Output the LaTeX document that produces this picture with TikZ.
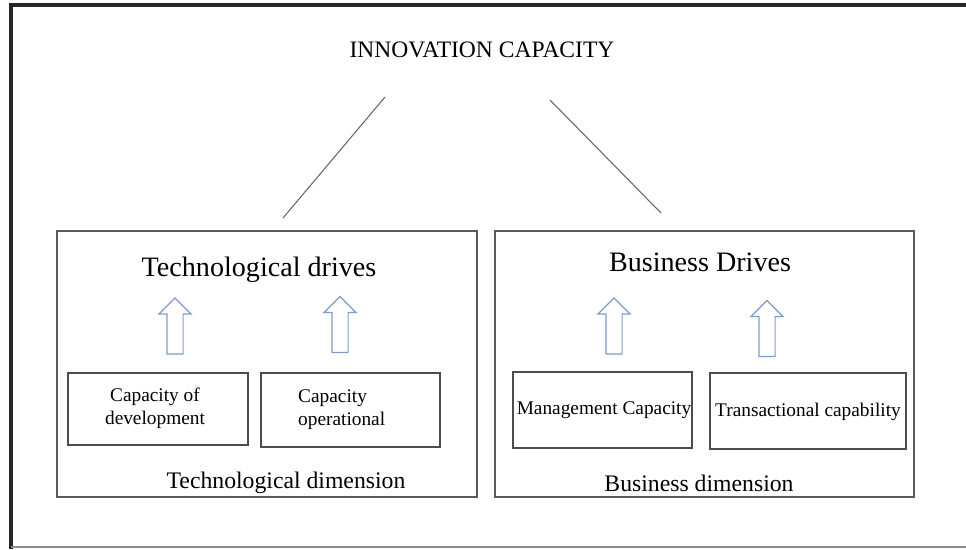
\documentclass[tikz,border=0pt]{standalone}
\usepackage{fontspec}
\setmainfont{Liberation Serif}
\usetikzlibrary{shapes.arrows}
\definecolor{arrowblue}{RGB}{125,155,205}

\begin{document}
\begin{tikzpicture}[x=0.02cm, y=-0.02cm,
    dimbox/.style={draw=black!65, line width=0.8pt},
    itembox/.style={draw=black!70, line width=0.9pt},
    uparrow/.style={single arrow, draw=arrowblue, line width=0.7pt,
      shape border rotate=90, inner sep=0.15cm, single arrow head extend=0.16cm,
      minimum height=1.12cm},
    link/.style={draw=black!60, line width=0.6pt},
    itemtext/.style={font=\fontsize{11}{13}\selectfont, align=center},
    headtext/.style={font=\fontsize{16}{19}\selectfont},
    dimtext/.style={font=\fontsize{13.5}{16}\selectfont}]
    \useasboundingbox (0,0) rectangle (966,549);

    % outer frame
    \draw[black!85, line width=1.8pt] (11,549) -- (11,5) -- (966,5);
    \draw[black!45, line width=0.6pt] (11,547) -- (966,547);

    \node[font=\fontsize{13.4}{16}\selectfont] (innov) at (482,50) {INNOVATION CAPACITY};

    % dimensions
    \draw[dimbox] (57,231) rectangle (477,497);
    \draw[dimbox] (495,231) rectangle (914,497);

    \coordinate (tl) at (385,97);
    \coordinate (bl) at (283,218);
    \coordinate (tr) at (550,100);
    \coordinate (br) at (661,213);
    \draw[link] (tl) -- (bl);
    \draw[link] (tr) -- (br);

    \node[headtext] (tdrive) at (259,270) {Technological drives};
    \node[headtext] (bdrive) at (700,262) {Business Drives};

    \node[uparrow] (ar1) at (175,330) {};
    \node[uparrow] (ar2) at (340,328.5) {};
    \node[uparrow] (ar3) at (614,330) {};
    \node[uparrow] (ar4) at (767,332.5) {};

    \draw[itembox] (68,373) rectangle (248,445);
    \draw[itembox] (261,373) rectangle (440,447);
    \draw[itembox] (513,372) rectangle (692,448);
    \draw[itembox] (710,373) rectangle (906,449);

    \node[itemtext] (cdev) at (155,408) {Capacity of\\development};
    \node[itemtext, align=left, anchor=west] (cop) at (292,410) {Capacity\\operational};
    \node[itemtext] (mcap) at (604,410) {Management Capacity};
    \node[itemtext] (tcap) at (808,412) {Transactional capability};

    \node[dimtext] (tdim) at (286,483) {Technological dimension};
    \node[dimtext] (bdim) at (699,483) {Business dimension};
  \end{tikzpicture}
\end{document}
